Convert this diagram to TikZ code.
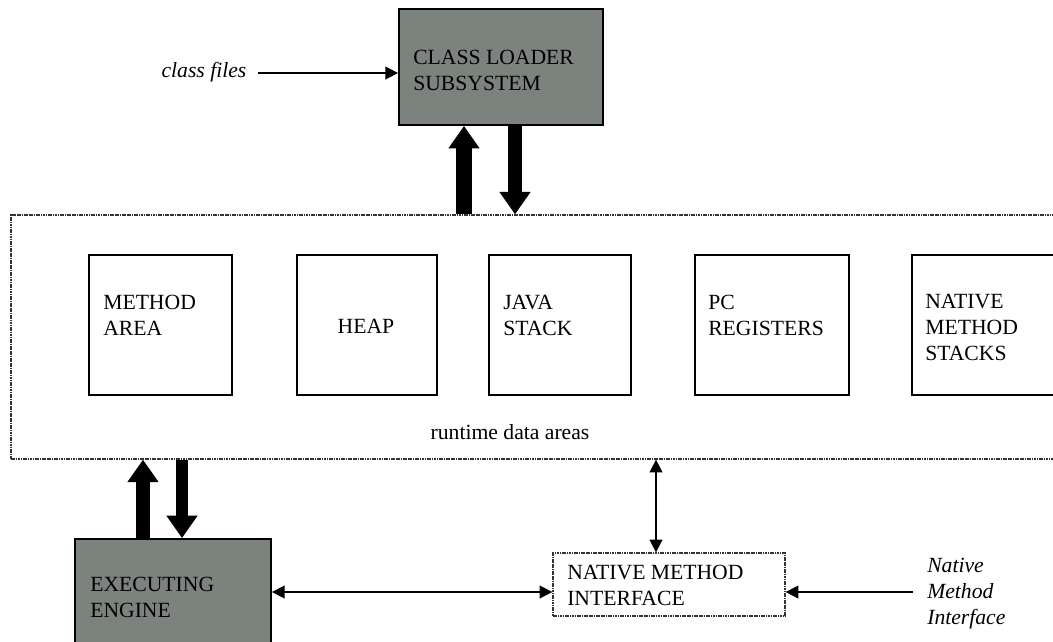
\documentclass[tikz,border=0pt]{standalone}
\usepackage{fontspec}
\setmainfont{Liberation Serif}
\usetikzlibrary{arrows.meta,fit}
\definecolor{boxgray}{RGB}{124,130,126}
\tikzset{
  x=0.025cm, y=-0.025cm,
  txt/.style={font=\fontsize{15.4}{18.5}\selectfont, align=left, inner sep=0pt, anchor=west},
  itxt/.style={txt, font=\fontsize{15.4}{18.5}\selectfont\itshape},
  solidbox/.style={draw, line width=1.3pt, inner sep=0pt},
  shadedbox/.style={solidbox, fill=boxgray},
  dotbox/.style={draw=black!80, line width=0.9pt, dash pattern=on 1.2pt off 0.5pt, inner sep=0pt},
  thin/.style={line width=1.2pt, -{Triangle[length=0.32cm,width=0.32cm]}},
  both/.style={line width=1.2pt, {Triangle[length=0.32cm,width=0.32cm]}-{Triangle[length=0.32cm,width=0.32cm]}},
  fat/.style={line width=#1, -{Triangle[length=0.56cm,width=0.74cm]}},
}
\begin{document}
\begin{tikzpicture}
\useasboundingbox (0,0) rectangle (1053,641);
\clip (0,0) rectangle (1053,641);

% runtime data areas (open to the right)
\node[dotbox, fit={(11,215) (1100,459)}] (rt) {};
\node[txt, anchor=center] (rtT) at (510,432) {runtime data areas};

% memory areas
\node[solidbox, fit={(89,255) (232,395)}] (ma) {};
\node[txt] (maT) at (103,315) {METHOD\\AREA};
\node[solidbox, fit={(297,255) (437,395)}] (hp) {};
\node[txt, anchor=center] (hpT) at (366,326) {HEAP};
\node[solidbox, fit={(489,255) (631,395)}] (js) {};
\node[txt] (jsT) at (503,315) {JAVA\\STACK};
\node[solidbox, fit={(695,255) (849,395)}] (pc) {};
\node[txt] (pcT) at (708,315) {PC\\REGISTERS};
\node[solidbox, fit={(912,255) (1060,395)}] (ns) {};
\node[txt] (nsT) at (925,327) {NATIVE\\METHOD\\STACKS};

% class loader
\node[shadedbox, fit={(399,9) (603,125)}] (cl) {};
\node[txt] (clT) at (413,70) {CLASS LOADER\\SUBSYSTEM};
\node[itxt, anchor=center] (cf) at (204,72) {class files};
\coordinate (cfy) at (0,73);
\draw[thin] (258,73) -- (cl.west |- cfy);

% executing engine
\node[shadedbox, fit={(75,539) (271,700)}] (ee) {};
\node[txt] (eeT) at (90,597) {EXECUTING\\ENGINE};

% native method interface
\node[dotbox, fit={(553,553) (785,616)}] (nmi) {};
\node[txt] (nmiT) at (567,585) {NATIVE METHOD\\INTERFACE};
\node[itxt] (nml) at (927,594) {Native\\Method\\Interface};

% thick arrows
\coordinate (xa) at (464,0);
\coordinate (xb) at (515,0);
\coordinate (xc) at (143,0);
\coordinate (xd) at (182,0);
\draw[fat=0.4cm] (rt.north -| xa) -- (cl.south -| xa);
\draw[fat=0.36cm] (cl.south -| xb) -- (rt.north -| xb);
\draw[fat=0.36cm] (ee.north -| xc) -- (rt.south -| xc);
\draw[fat=0.32cm] (rt.south -| xd) -- (ee.north -| xd);

% thin arrows
\coordinate (xe) at (656,0);
\coordinate (yl) at (0,592);
\draw[both] (rt.south -| xe) -- (nmi.north -| xe);
\draw[both] (ee.east |- yl) -- (nmi.west |- yl);
\draw[thin] (913,592) -- (nmi.east |- yl);
\end{tikzpicture}
\end{document}
